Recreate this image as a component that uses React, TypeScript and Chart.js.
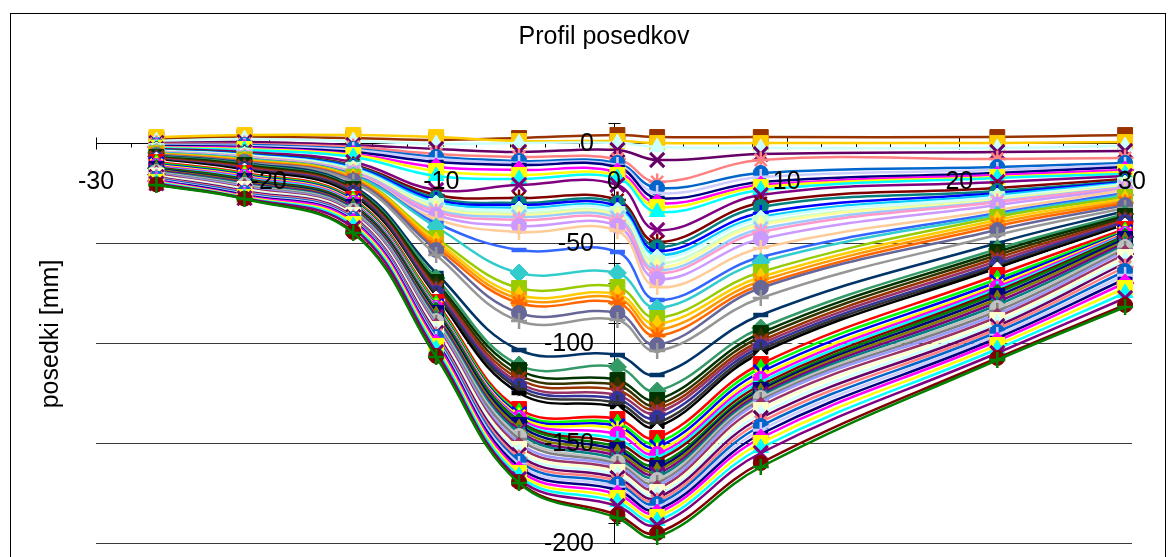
import { useEffect, useRef } from 'react';
import { Chart, registerables } from 'chart.js';

Chart.register(...registerables);

// Stationing of the survey points across the tunnel axis [m]
const stations = [-26.5, -21.4, -15.1, -10.3, -5.5, 0.2, 2.5, 8.5, 22.2, 29.6];

// Settlements [mm] at each survey point, one entry per measurement (oldest first)
const pointM26 = [
  2, 3, 1, 0, -0.5, -1, -1.3, -1.6, -2, -2.3, -2.6, -3, -3.3, -3.5, -3.7, -3.8, -3.9, -4, -4.1, -4.2, -4.3, -4.4, -4.5,
  -4.7, -4.9, -5.1, -5.3, -5.5, -5.7, -5.9, -6.1,
  -6.4, -6.7, -7, -7.3, -7.6, -7.9, -8.1, -8.3, -8.6,
  -9, -9.5, -10, -10.5, -11, -11.5, -12, -12.3, -12.6, -13, -13.4, -13.8, -14.2, -14.6, -15, -15.4, -15.8, -16.2, -16.6, -17,
  -17.4, -17.8, -18.2, -18.6, -19, -19.4, -19.8, -20.2, -20.7, -21,
];
const pointM21 = [
  3, 4, 2, 0.5, -0.5, -1, -1.5, -2, -2.5, -3, -3.5, -4.5, -5, -5.3, -5.6, -5.9, -6.1, -6.3, -6.5, -6.7, -6.9, -7.1, -7.3,
  -7.6, -7.9, -8.2, -8.5, -8.8, -9.1, -9.4, -9.7,
  -10, -10.5, -11, -11.5, -12, -12.5, -13, -13.3, -13.6,
  -14.5, -15, -15.5, -16, -16.5, -17, -17.5, -18, -18.5, -19, -19.5, -20, -20.5, -21, -21.5, -22, -22.5, -23, -23.5, -24,
  -24.5, -25, -25.5, -26, -26.5, -27, -27.3, -27.6, -27.8, -28,
];
const pointM15 = [
  2.5, 4, 1, -1, -2, -3, -3.5, -4.5, -5.5, -6, -7, -9.5, -11, -11.5, -12, -12.5, -13, -13.4, -13.8, -14.2, -14.6, -15, -15.3,
  -15.8, -16.3, -16.8, -17.3, -17.8, -18.2, -18.7, -19.5,
  -21.5, -22.5, -23, -23.5, -24, -24.5, -25, -25.5, -26.5,
  -27.5, -28, -28.5, -29, -29.5, -30, -30.5, -31, -31.5, -32, -32.5, -33, -33.5, -34, -34.5, -35, -35.5, -36, -36.5, -37,
  -37.5, -38, -38.5, -39, -39.5, -40.5, -41.5, -42.5, -44.5, -45,
];
const pointM10 = [
  1.5, 3, -0.5, -3, -5.5, -7, -8, -9.5, -12, -14, -16.5, -23.5, -26, -27.5, -28.5, -29.5, -30.5, -31.5, -32.5, -33.5, -34.5, -36, -38,
  -40, -42, -47.5, -49, -50.5, -52, -53.5, -56,
  -65, -67.5, -69.5, -71, -72.5, -73.5, -75, -76, -77.5,
  -78.5, -79.5, -80.5, -81.5, -82, -82.5, -83, -83.5, -84, -85, -86, -87, -88, -89, -90, -91, -92, -93, -94, -95,
  -96, -97, -98, -99, -100, -101.5, -103, -104.5, -106.5, -107,
];
const pointM5 = [
  2.5, 1, 0, -4.5, -7, -9, -10, -11, -13.5, -16, -18, -21, -27.5, -30, -31, -32.5, -33.5, -35, -36, -37, -38.5, -41.5, -44.5,
  -53.5, -65, -72.5, -76, -78, -80, -85, -89,
  -103.5, -111, -113.5, -116, -118, -120, -121.5, -123, -125,
  -131, -133, -134.5, -135.5, -136.5, -137.5, -138.5, -139, -139.5, -141, -142.5, -144, -145, -146.5, -148, -150, -151.5, -153, -154.5, -156,
  -157.5, -159, -160.5, -162, -163.5, -165, -166.5, -168, -169.5, -170,
];
const pointP0 = [
  4, 1, 0, -3.5, -8, -10, -11, -12, -14.5, -16, -17.5, -21, -28.5, -30, -31.5, -33, -34, -35.5, -36.5, -37.5, -39, -41.5, -44,
  -54.5, -65, -72, -75.5, -77.5, -80, -85, -88.5,
  -106, -112, -118.5, -121, -123.5, -126, -128, -130, -132,
  -136, -138, -140, -141.5, -143, -145.5, -148, -150, -152, -153.5, -155, -156.5, -158, -159.5, -160.5, -161.5, -163, -164.5, -166, -167.5,
  -169, -170.5, -172, -173.5, -175.5, -177.5, -179.5, -181.5, -186, -187.5,
];
const pointP2 = [
  3, 0, -2, -8.5, -19.5, -22.5, -25, -27.5, -30, -32, -34.5, -43.5, -49.5, -52, -54, -56, -57.5, -60, -62, -63.5, -65, -68, -72,
  -78.5, -82.5, -87.5, -90.5, -93.5, -96.5, -101, -104,
  -116, -124, -128.5, -131, -133, -135, -137.5, -140, -142,
  -145, -147.5, -150, -152, -154, -155.5, -157, -158.5, -161, -162.5, -164, -165.5, -167, -168.5, -170, -171.5, -173, -174.5, -176, -177.5,
  -179, -180.5, -182, -183.5, -185, -187, -189, -191, -195, -197,
];
const pointP8 = [
  3, 0, -2.5, -5.5, -8.5, -15, -17, -19.5, -21, -22, -23.5, -26, -30, -32, -35, -37, -38, -40, -41, -43, -44.5, -48, -52.5,
  -57, -59.5, -64.5, -67, -69, -71, -72.5, -77.5,
  -86, -92.5, -95, -97, -99, -100.5, -102, -103.5, -105,
  -108, -110.5, -112.5, -114.5, -116.5, -118, -119.5, -121, -122.5, -123.5, -124.5, -125.5, -126.5, -127.5, -128.5, -129.5, -131.5, -133.5, -135.5, -137.5,
  -139.5, -141.5, -143.5, -145.5, -147.5, -150, -152.5, -155, -160, -162,
];
const pointP22 = [
  3, 0, -2.5, -4.5, -8, -12, -13.5, -15, -16, -17, -17.5, -19.5, -22.5, -24, -25, -26, -27, -28, -28.5, -29, -29.5, -31, -33.5,
  -35, -36, -37, -38.5, -40, -41.5, -43.5, -46,
  -50, -53, -54.5, -56, -57.5, -59, -60.5, -61.5, -62.5,
  -64, -66, -68, -69.5, -71, -72, -73, -74, -75, -76.5, -78, -79.5, -81, -82.5, -84, -85.5, -87, -88.5, -90, -91.5,
  -93, -94.5, -96, -97.5, -99, -101, -103, -105, -107.5, -108.5,
];
const pointP29 = [
  4, 0.5, -1.5, -4, -7.5, -10, -11, -12, -13.5, -14.5, -15.5, -16.5, -18, -19, -19.5, -20, -20.5, -21, -21.5, -22, -22.5, -23, -23.5,
  -25, -26, -27, -28, -29, -30, -31, -32.5,
  -34, -35.5, -36.5, -37.5, -38.5, -39, -39.5, -40.5, -41,
  -42, -43, -44, -44.5, -45, -45.5, -46, -46.5, -47, -48, -49, -50, -51, -52, -53, -54, -55.5, -57, -58.5, -60,
  -62, -64, -66, -68, -70, -72.5, -75, -77.5, -81, -82,
];

const pointColumns = [pointM26, pointM21, pointM15, pointM10, pointM5, pointP0, pointP2, pointP8, pointP22, pointP29];

const xTickValues = [-30, -20, -10, 0, 10, 20, 30];
const yTickValues = [0, -50, -100, -150, -200];
const yGridValues = [-50, -100, -150, -200];

const chartTitle = 'Profil posedkov';
const yAxisTitle = 'posedki [mm]';

// Classic office palette, used in order for successive series
const palette = [
  '#000000', '#FFFFFF', '#FF0000', '#00FF00', '#0000FF', '#FFFF00', '#FF00FF', '#00FFFF',
  '#800000', '#008000', '#000080', '#808000', '#800080', '#008080', '#C0C0C0', '#808080',
  '#9999FF', '#993366', '#FFFFCC', '#CCFFFF', '#660066', '#FF8080', '#0066CC', '#CCCCFF',
  '#000080', '#FF00FF', '#FFFF00', '#00FFFF', '#800080', '#800000', '#008080', '#0000FF',
  '#00CCFF', '#CCFFFF', '#CCFFCC', '#FFFF99', '#99CCFF', '#FF99CC', '#CC99FF', '#FFCC99',
  '#3366FF', '#33CCCC', '#99CC00', '#FFCC00', '#FF9900', '#FF6600', '#666699', '#969696',
  '#003366', '#339966', '#003300', '#333300', '#993300', '#993366', '#333399', '#333333',
];

const markerCycle = ['line', 'rectRot', 'rect', 'triangle', 'crossRot', 'star', 'circle', 'cross'];

const FONT = '"Liberation Sans", Arial, sans-serif';

function markerSpec(style: string) {
  switch (style) {
    case 'line': return { radius: 7.5, width: 4.5 };
    case 'rectRot': return { radius: 9, width: 1 };
    case 'rect': return { radius: 10.5, width: 1 };
    case 'triangle': return { radius: 9, width: 1 };
    case 'crossRot': return { radius: 10, width: 3 };
    case 'star': return { radius: 8.5, width: 2.5 };
    case 'circle': return { radius: 7.5, width: 1 };
    default: return { radius: 8, width: 2.5 };
  }
}

const crossAxesPlugin = {
  id: 'crossAxes',
  beforeDatasetsDraw(chart: any) {
    const { ctx, scales } = chart;
    const xs = scales.x;
    const ys = scales.y;
    const x0 = Math.round(xs.getPixelForValue(0)) + 0.5;
    const y0 = Math.round(ys.getPixelForValue(0)) + 0.5;
    const xl = xs.getPixelForValue(-30);
    const xr = xs.getPixelForValue(30);
    ctx.save();
    ctx.lineWidth = 1;
    ctx.strokeStyle = '#3a3a3a';
    ctx.beginPath();
    for (const v of yGridValues) {
      const py = Math.round(ys.getPixelForValue(v)) + 0.5;
      ctx.moveTo(xl, py);
      ctx.lineTo(xr, py);
    }
    ctx.stroke();

    ctx.strokeStyle = '#000000';
    ctx.beginPath();
    ctx.moveTo(xl, y0);
    ctx.lineTo(xr, y0);
    for (let v = -30; v <= 30; v += 2) {
      const px = Math.round(xs.getPixelForValue(v)) + 0.5;
      if (v % 10 === 0) {
        ctx.moveTo(px, y0 - 6);
        ctx.lineTo(px, y0 + 6);
      } else {
        ctx.moveTo(px, y0);
        ctx.lineTo(px, y0 + 4);
      }
    }
    ctx.moveTo(x0, ys.getPixelForValue(10));
    ctx.lineTo(x0, ys.getPixelForValue(-200));
    for (let v = 10; v >= -200; v -= 10) {
      const py = Math.round(ys.getPixelForValue(v)) + 0.5;
      ctx.moveTo(x0 - 6, py);
      ctx.lineTo(x0 + 6, py);
    }
    ctx.stroke();
    ctx.restore();
  },
  afterDatasetsDraw(chart: any) {
    const { ctx, scales } = chart;
    const xs = scales.x;
    const ys = scales.y;
    const x0 = xs.getPixelForValue(0);
    const y0 = ys.getPixelForValue(0);
    ctx.save();
    ctx.fillStyle = '#000000';
    ctx.font = `25px ${FONT}`;
    ctx.textBaseline = 'middle';
    ctx.textAlign = 'center';
    for (const v of xTickValues) {
      ctx.fillText(String(v), xs.getPixelForValue(v), y0 + 39);
    }
    ctx.textAlign = 'right';
    for (const v of yTickValues) {
      ctx.fillText(String(v), x0 - 20, ys.getPixelForValue(v) + 1);
    }
    ctx.restore();
  },
  afterDraw(chart: any) {
    const { ctx } = chart;
    ctx.save();
    ctx.strokeStyle = '#000000';
    ctx.lineWidth = 1;
    ctx.strokeRect(10.5, 13.5, 1155, 700);
    ctx.fillStyle = '#000000';
    ctx.font = `25px ${FONT}`;
    ctx.textAlign = 'center';
    ctx.textBaseline = 'alphabetic';
    ctx.fillText(chartTitle, 604, 44);
    ctx.translate(58, 334);
    ctx.rotate(-Math.PI / 2);
    ctx.fillText(yAxisTitle, 0, 0);
    ctx.restore();
  },
};

export default function App() {
  const canvasRef = useRef<HTMLCanvasElement | null>(null);

  useEffect(() => {
    const canvas = canvasRef.current;
    if (!canvas) return;
    const count = pointM26.length;
    const datasets = [];
    for (let s = 0; s < count; s++) {
      let color = palette[(17 + s) % palette.length];
      let style = markerCycle[(s + 1) % markerCycle.length];
      if (s === 0) { color = '#993300'; style = 'rect'; }
      if (s === 1) { color = '#FFCC00'; style = 'rect'; }
      if (s === count - 2) { color = '#800000'; style = 'circle'; }
      if (s === count - 1) { color = '#008000'; style = 'cross'; }
      const spec = markerSpec(style);
      datasets.push({
        label: `meritev ${s + 1}`,
        data: stations.map((x, j) => ({ x, y: pointColumns[j][s] })),
        borderColor: color,
        backgroundColor: color,
        borderWidth: 2.5,
        tension: 0.4,
        pointStyle: style,
        pointRadius: spec.radius,
        pointBorderWidth: spec.width,
        pointBackgroundColor: color,
        pointBorderColor: color,
        clip: false,
        order: count - s,
      });
    }

    const chart = new Chart(canvas, {
      type: 'line',
      data: { datasets } as any,
      options: {
        animation: false,
        responsive: false,
        devicePixelRatio: 1,
        events: [],
        layout: { padding: { left: 96, top: 123, right: 44, bottom: 57 } },
        scales: {
          x: { type: 'linear', min: -30, max: 30, display: false },
          y: { type: 'linear', min: -200, max: 10, display: false },
        },
        plugins: {
          legend: { display: false },
          tooltip: { enabled: false },
          title: { display: false },
        },
      },
      plugins: [crossAxesPlugin],
    } as any);

    return () => chart.destroy();
  }, []);

  return (
    <div
      style={{
        position: 'fixed',
        left: 0,
        top: 0,
        width: 1176,
        height: 557,
        overflow: 'hidden',
        background: '#ffffff',
      }}
    >
      <canvas ref={canvasRef} width={1176} height={600} style={{ display: 'block' }} />
    </div>
  );
}
